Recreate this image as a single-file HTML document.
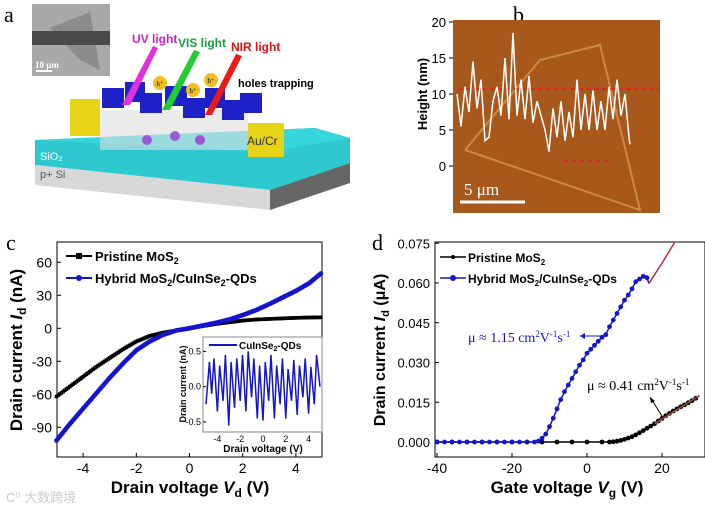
<!DOCTYPE html>
<html><head><meta charset="utf-8"><style>
body{margin:0;background:#fff;width:705px;height:508px;overflow:hidden}
svg{display:block;font-family:"Liberation Sans",Arial,sans-serif}
.b{font-weight:bold}
</style></head><body>
<svg id="fig" width="705" height="508" viewBox="0 0 705 508">
<!-- Panel a -->
<g>
<text x="4" y="22" font-family="Liberation Serif" font-size="22">a</text>
<rect x="32" y="4" width="78" height="72" fill="#a9a9a9"/>
<polygon points="50,28 90,12 100,70 80,60" fill="#8c8c8c"/>
<rect x="32" y="31" width="78" height="14" fill="#4a4a4a"/>
<line x1="36" y1="71" x2="52" y2="71" stroke="#fff" stroke-width="2"/>
<text x="35" y="68" font-family="Liberation Serif" font-size="9" fill="#fff" class="b">10 μm</text>
<polygon points="35,140 315,128 350,138 350,163 270,190 35,165" fill="#2ec9cf"/>
<polygon points="35,165 270,190 270,210 35,185" fill="#d8d8d8"/>
<polygon points="270,190 350,163 350,183 270,210" fill="#666"/>
<polygon points="35,140 315,128 350,138 270,152" fill="#35d6dc"/>
<rect x="70" y="99" width="30" height="37" fill="#e8d416"/>
<rect x="248" y="123" width="36" height="34" fill="#e8d416"/>
<rect x="100" y="110" width="148" height="40" fill="#ddd" opacity="0.6"/>
<g fill="#1c22c8">
<rect x="102" y="88" width="22" height="20"/><rect x="125" y="82" width="20" height="20"/><rect x="140" y="93" width="22" height="20"/>
<rect x="165" y="86" width="22" height="20"/><rect x="183" y="98" width="22" height="20"/><rect x="205" y="88" width="20" height="20"/>
<rect x="222" y="100" width="22" height="20"/><rect x="240" y="93" width="22" height="20"/></g>
<g fill="#9a5ad8"><circle cx="147" cy="140" r="5"/><circle cx="175" cy="136" r="5"/><circle cx="200" cy="140" r="5"/></g>
<polygon points="122,105 130,105 158,48 153,46" fill="#e030d8"/>
<polygon points="162,110 170,110 200,52 194,50" fill="#22cc33"/>
<polygon points="205,115 212,115 242,56 236,54" fill="#ee1a1a"/>
<circle cx="160" cy="83" r="7" fill="#f0c020"/><circle cx="193" cy="90" r="7" fill="#f0c020"/><circle cx="211" cy="80" r="7" fill="#f0c020"/>
<g font-size="7" font-family="Liberation Serif" text-anchor="middle"><text x="160" y="86">h⁺</text><text x="193" y="93">h⁺</text><text x="211" y="83">h⁺</text></g>
<text x="132" y="43" font-size="12" fill="#d020c8" class="b">UV light</text>
<text x="178" y="47" font-size="12" fill="#18a040" class="b">VIS light</text>
<text x="231" y="51" font-size="12" fill="#e01010" class="b">NIR light</text>
<text x="238" y="87" font-size="11" fill="#000" class="b">holes trapping</text>
<text x="247" y="145" font-size="12" fill="#333">Au/Cr</text>
<text x="40" y="160" font-size="11" fill="#fff">SiO₂</text>
<text x="40" y="178" font-size="11" fill="#555">p+ Si</text>
</g>
<!-- Panel b -->
<g>
<text x="513" y="22" font-family="Liberation Serif" font-size="22">b</text>
<rect x="453" y="20" width="207" height="193" fill="#a8581a"/>
<polyline points="465,150 540,60 600,45 640,210 465,150" fill="none" stroke="#d9a060" stroke-width="2" opacity="0.7"/>
<line x1="449" y1="22" x2="453" y2="22" stroke="#000"/><line x1="449" y1="58" x2="453" y2="58" stroke="#000"/><line x1="449" y1="94" x2="453" y2="94" stroke="#000"/><line x1="449" y1="130" x2="453" y2="130" stroke="#000"/><line x1="449" y1="166" x2="453" y2="166" stroke="#000"/>
<g font-size="13" text-anchor="end"><text x="446" y="27">20</text><text x="446" y="63">15</text><text x="446" y="99">10</text><text x="446" y="135">5</text><text x="446" y="171">0</text></g>
<text transform="translate(427,94) rotate(-90)" text-anchor="middle" font-size="13" class="b">Height (nm)</text>
<line x1="458" y1="89" x2="660" y2="89" stroke="#e02020" stroke-width="1.5" stroke-dasharray="5,3"/>
<line x1="563" y1="161" x2="608" y2="161" stroke="#e02020" stroke-width="1.5" stroke-dasharray="5,3"/>
<polyline id="afmline" fill="none" stroke="#fff" stroke-width="1.5"/>
<line x1="460" y1="202" x2="525" y2="202" stroke="#fff" stroke-width="3"/>
<text x="464" y="195" font-family="Liberation Serif" font-size="17" fill="#fff">5 μm</text>
</g>
<!-- Panel c -->
<g id="pc">
<text x="6" y="250" font-family="Liberation Serif" font-size="22">c</text>
<rect x="57" y="242" width="265" height="215" fill="none" stroke="#000"/>
<text transform="translate(22,350) rotate(-90)" text-anchor="middle" font-size="17" class="b">Drain current <tspan font-style="italic">I</tspan><tspan font-size="12" dy="4">d</tspan><tspan dy="-4"> (nA)</tspan></text>
<text x="190" y="493" text-anchor="middle" font-size="17" class="b">Drain voltage <tspan font-style="italic">V</tspan><tspan font-size="12" dy="4">d</tspan><tspan dy="-4"> (V)</tspan></text>
<g>
<line x1="66" y1="256" x2="92" y2="256" stroke="#000" stroke-width="2"/><rect x="76" y="253" width="6" height="6" fill="#000"/>
<text x="95" y="261" font-size="13" class="b">Pristine MoS<tspan font-size="9" dy="3">2</tspan></text>
<line x1="66" y1="278" x2="92" y2="278" stroke="#1515d0" stroke-width="2"/><circle cx="79" cy="278" r="3" fill="#1515d0"/>
<text x="95" y="283" font-size="13" class="b">Hybrid MoS<tspan font-size="9" dy="3">2</tspan><tspan dy="-3">/CuInSe</tspan><tspan font-size="9" dy="3">2</tspan><tspan dy="-3">-QDs</tspan></text>
</g>
<rect x="203" y="337" width="119" height="95" fill="#fff" stroke="#888"/>
<text transform="translate(186,384) rotate(-90)" text-anchor="middle" font-size="9" class="b">Drain current (nA)</text>
<text x="263" y="452" text-anchor="middle" font-size="10" class="b">Drain voltage (V)</text>
<line x1="209" y1="345" x2="237" y2="345" stroke="#1515d0" stroke-width="2"/>
<text x="239" y="349" font-size="10" class="b">CuInSe<tspan font-size="7" dy="2">2</tspan><tspan dy="-2">-QDs</tspan></text>
</g>
<!-- Panel d -->
<g id="pd">
<text x="372" y="250" font-family="Liberation Serif" font-size="22">d</text>
<rect x="435" y="242" width="270" height="215" fill="none" stroke="#000"/>
<text transform="translate(385,350) rotate(-90)" text-anchor="middle" font-size="16" class="b">Drain current <tspan font-style="italic">I</tspan><tspan font-size="11" dy="4">d</tspan><tspan dy="-4"> (μA)</tspan></text>
<text x="567" y="493" text-anchor="middle" font-size="17" class="b">Gate voltage <tspan font-style="italic">V</tspan><tspan font-size="12" dy="4">g</tspan><tspan dy="-4"> (V)</tspan></text>
<g>
<line x1="440" y1="257" x2="466" y2="257" stroke="#000" stroke-width="1.5"/><circle cx="453" cy="257" r="2" fill="#000"/>
<text x="468" y="262" font-size="12" class="b">Pristine MoS<tspan font-size="8" dy="3">2</tspan></text>
<line x1="440" y1="278" x2="466" y2="278" stroke="#1515d0" stroke-width="1.5"/><circle cx="453" cy="278" r="3" fill="#1515d0"/>
<text x="468" y="283" font-size="12" class="b">Hybrid MoS<tspan font-size="8" dy="3">2</tspan><tspan dy="-3">/CuInSe</tspan><tspan font-size="8" dy="3">2</tspan><tspan dy="-3">-QDs</tspan></text>
</g>
<text x="468" y="342" font-family="Liberation Serif" font-size="14" fill="#1515d0">μ ≈ 1.15 cm<tspan font-size="9" dy="-5">2</tspan><tspan dy="5">V</tspan><tspan font-size="9" dy="-5">-1</tspan><tspan dy="5">s</tspan><tspan font-size="9" dy="-5">-1</tspan></text>
<line x1="580" y1="336" x2="608" y2="336" stroke="#1515d0"/><polygon points="580,336 585,333 585,339" fill="#1515d0"/>
<text x="587" y="390" font-family="Liberation Serif" font-size="14">μ ≈ 0.41 cm<tspan font-size="9" dy="-5">2</tspan><tspan dy="5">V</tspan><tspan font-size="9" dy="-5">-1</tspan><tspan dy="5">s</tspan><tspan font-size="9" dy="-5">-1</tspan></text>
<line x1="650" y1="397" x2="662" y2="416" stroke="#000"/><polygon points="650,397 651,403 655,401" fill="#000"/>
</g>
<text x="6" y="502" font-size="13" fill="#ccc" font-family="Liberation Sans,'Noto Sans CJK SC',sans-serif">C⁰ 大数跨境</text>
</svg>
<script>
// ---------- Panel c data ----------
const cX=[-5,-4.5,-4,-3.5,-3,-2.5,-2,-1.5,-1,-0.5,0,0.5,1,1.5,2,2.5,3,3.5,4,4.5,5];
const cPristine=[-62,-53,-44,-35,-27,-19,-12,-7,-4,-2,0,2,4,5.5,7,8,8.5,9,9.5,9.8,10];
const cHybrid=[-102,-87,-73,-59,-45,-32,-20,-12,-6,-2,0,2.5,5,8,12,16.5,22,28,34,41,51];
const cYTicks=[60,30,0,-30,-60,-90];
const cXTicks=[-4,-2,0,2,4];
const insetX=[-5,-4.7,-4.5,-4.3,-4,-3.8,-3.5,-3.3,-3,-2.8,-2.5,-2.3,-2,-1.8,-1.5,-1.3,-1,-0.8,-0.5,-0.3,0,0.2,0.5,0.7,1,1.2,1.5,1.7,2,2.2,2.5,2.7,3,3.2,3.5,3.7,4,4.2,4.5,4.7,5];
const insetY=[-0.25,0.35,-0.1,0.4,-0.35,0.3,-0.2,0.45,-0.55,0.35,-0.3,0.4,-0.2,0.45,-0.35,0.5,-0.15,0.4,-0.45,0.3,-0.48,0.35,-0.2,0.45,-0.45,0.3,-0.25,0.4,-0.45,0.25,-0.2,0.38,-0.4,0.3,-0.15,0.4,-0.38,0.28,-0.25,0.45,0.0];
const insetYTicks=[0.5,0.0,-0.5];
const insetXTicks=[-4,-2,0,2,4];
// ---------- Panel d data ----------
const dXh=[-40,-38,-36,-34,-32,-30,-28,-26,-24,-22,-20,-18,-16,-14,-13,-12,-11,-10,-9,-8,-7,-6,-5,-4,-3,-2,-1,0,1,2,3,4,5,6,7,8,9,10,11,12,13,14,15,16,16.5];
const dHybrid=[0,0,0,0,0,0,0,0,0,0,0,0,0,0,0.0003,0.0014,0.003,0.0058,0.009,0.0125,0.016,0.019,0.0215,0.024,0.0265,0.029,0.031,0.0335,0.035,0.0365,0.038,0.0395,0.0405,0.0435,0.046,0.0485,0.051,0.0535,0.0555,0.0578,0.0605,0.0615,0.0625,0.062,0.0598];
const dXfit=[16.5,20,23.5];
const dFit=[0.0598,0.0675,0.0756];
const dXp=[-40,-36,-32,-28,-24,-20,-16,-12,-8,-4,0,4,6,7,8,9,10,11,12,13,14,15,16,17,18,19,20,21,22,23,24,25,26,27,28,29,30];
const dPristine=[0,0,0,0,0,0,0,0,0,0,0,0,0,0.0001,0.0003,0.0006,0.001,0.0015,0.002,0.0027,0.0035,0.0043,0.0052,0.006,0.0069,0.0079,0.0089,0.0099,0.0108,0.0117,0.0125,0.0133,0.014,0.0148,0.0156,0.0165,0.0175];
const dYTicks=[0,0.015,0.030,0.045,0.060,0.075];
const dYLabels=["0.000","0.015","0.030","0.045","0.060","0.075"];
const dXTicks=[-40,-20,0,20];
// ---------- Panel b data ----------
const bX=[0,4,8,12,16,20,24,28,32,36,40,44,48,52,56,60,64,68,72,76,80,84,88,92,96,100,104,108,112,116,120,124,128,132,136,140,144,148,152,156,160,164,168,172,173];
const bH=[10,5.5,11,7.5,14.5,8,12,3.5,4,9,11,7,15,6.5,18.5,7,12,6.5,12.5,6,9,7,5,2,8,4,9,3.5,7.5,4,12,5,10,5,10.5,5,9,5,11,6.5,12,7,10,4,3];

const NS="http://www.w3.org/2000/svg";
function mk(tag,parent,attrs){const e=document.createElementNS(NS,tag);for(const k in attrs)e.setAttribute(k,attrs[k]);parent.appendChild(e);return e;}

// Panel b
const bx=v=>457+v, by=v=>166-v*7.2;
const afm=document.getElementById('afmline');
afm.setAttribute('points',bX.map((x,i)=>bx(x)+','+by(bH[i])).join(' '));

// Panel c
const pc=document.getElementById('pc');
const cx=v=>189.5+v*26.6, cy=v=>328.3-v*1.1;
cYTicks.forEach(t=>{const l=mk('line',pc,{x1:57,x2:61,y1:cy(t),y2:cy(t),stroke:'#000'});


const tx=mk('text',pc,{x:52,y:cy(t)+5,'text-anchor':'end','font-size':14});tx.textContent=t;

});
cXTicks.forEach(t=>{mk('line',pc,{x1:cx(t),x2:cx(t),y1:457,y2:453,stroke:'#000'});
const tx=mk('text',pc,{x:cx(t),y:473,'text-anchor':'middle','font-size':14});tx.textContent=t;

});
function series(parent,xs,ys,fx,fy,color,w,name,marker,step){
 const pl=mk('polyline',parent,{points:xs.map((x,i)=>fx(x)+','+fy(ys[i])).join(' '),fill:'none',stroke:color,'stroke-width':w});
 
 
 if(marker){for(let i=0;i<xs.length-1;i++){for(let s=0;s<step;s++){const f=s/step;const x=fx(xs[i])+(fx(xs[i+1])-fx(xs[i]))*f,y=fy(ys[i])+(fy(ys[i+1])-fy(ys[i]))*f;
  const m=marker==='sq'?mk('rect',parent,{x:x-1.8,y:y-1.8,width:3.6,height:3.6,fill:color}):mk('circle',parent,{cx:x,cy:y,r:2.4,fill:color});
  
  }}}
}
series(pc,cX,cPristine,cx,cy,'#000',2,'pristine-iv-line','sq',8);
series(pc,cX,cHybrid,cx,cy,'#1515d0',2,'hybrid-iv-line','ci',8);
// inset
const ix=v=>263+v*11.4, iy=v=>386.7-v*70.6;
insetYTicks.forEach(t=>{mk('line',pc,{x1:203,x2:206,y1:iy(t),y2:iy(t),stroke:'#000'});
const tx=mk('text',pc,{x:201,y:iy(t)+3,'text-anchor':'end','font-size':9});tx.textContent=t.toFixed(1);

});
insetXTicks.forEach(t=>{const tx=mk('text',pc,{x:ix(t),y:442,'text-anchor':'middle','font-size':9});tx.textContent=t;

});
series(pc,insetX,insetY,ix,iy,'#1515d0',1.5,'inset-qd-line',null,0);

// Panel d
const pd=document.getElementById('pd');
const dx=v=>587+v*3.75, dy=v=>442-v*2650;
dYTicks.forEach((t,i)=>{mk('line',pd,{x1:435,x2:439,y1:dy(t),y2:dy(t),stroke:'#000'});
const tx=mk('text',pd,{x:430,y:dy(t)+5,'text-anchor':'end','font-size':13});tx.textContent=dYLabels[i];

});
dXTicks.forEach(t=>{mk('line',pd,{x1:dx(t),x2:dx(t),y1:457,y2:453,stroke:'#000'});
const tx=mk('text',pd,{x:dx(t),y:473,'text-anchor':'middle','font-size':14});tx.textContent=t;

});
series(pd,dXp,dPristine,dx,dy,'#000',1.5,'pristine-transfer-line','ci',1);
series(pd,dXh,dHybrid,dx,dy,'#1515d0',1.5,'hybrid-transfer-line','ci',1);
series(pd,dXfit,dFit,dx,dy,'#b03040',1.5,'hybrid-linear-fit',null,0);
series(pd,[18,30],[0.0069,0.0175],dx,dy,'#a05040',1.5,'pristine-linear-fit',null,0);
</script>
</body></html>
